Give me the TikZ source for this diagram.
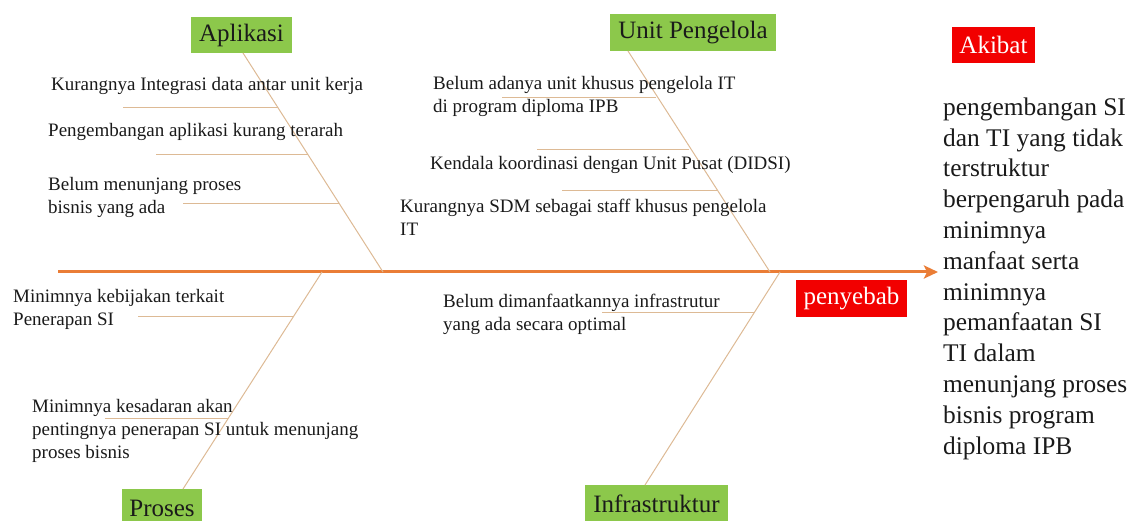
\documentclass[tikz,border=0pt]{standalone}
\usepackage{fontspec}
\setmainfont{Liberation Serif}
\usetikzlibrary{arrows.meta}
\definecolor{spineor}{HTML}{EA7D36}
\definecolor{bonecol}{HTML}{DDBA95}
\definecolor{catgreen}{HTML}{8CC84B}
\definecolor{effred}{HTML}{F20000}
\definecolor{txt}{HTML}{1A1A1A}
\tikzset{
  cat/.style={fill=catgreen, text=txt, inner sep=0pt, font=\fontsize{25}{30}\selectfont},
  redlab/.style={fill=effred, text=white, inner sep=0pt, font=\fontsize{25}{30}\selectfont},
  cause/.style={anchor=base west, align=left, inner sep=0pt, text=txt, font=\fontsize{19}{23}\selectfont},
  bone/.style={draw=bonecol, line width=1pt},
  spine/.style={draw=spineor, line width=3pt, -{Stealth[length=14pt,width=13pt,inset=3pt]}}
}
\begin{document}
\begin{tikzpicture}[x=1pt,y=-1pt]
\useasboundingbox (0,0) rectangle (1136,521);
\clip (0,0) rectangle (1136,521);
% category boxes
\node[cat, minimum width=101pt, minimum height=36pt] (apl) at (241.5,35) {Aplikasi};
\node[cat, minimum width=166pt, minimum height=37pt] (unit) at (693,32.5) {Unit Pengelola};
\node[cat, minimum width=80pt, minimum height=38pt] (pros) at (162,508) {Proses};
\node[cat, minimum width=143pt, minimum height=38pt] (infra) at (656.5,504) {Infrastruktur};
\node[redlab, minimum width=83pt, minimum height=36pt] (akibat) at (993.5,45) {Akibat};
\node[redlab, minimum width=111pt, minimum height=37pt] (peny) at (851.5,298.5) {penyebab};
% spine
\coordinate (tail) at (58,272);
\coordinate (head) at (938,272);
\draw[spine] (tail) -- (head);
% diagonal bones
\coordinate (aTop) at (243,53);
\coordinate (aBot) at (383,272);
\coordinate (uTop) at (628,51);
\coordinate (uBot) at (770,272);
\coordinate (pTop) at (322,272);
\coordinate (pBot) at (183,489);
\coordinate (iTop) at (780,272);
\coordinate (iBot) at (645,485);
\draw[bone] (aTop) -- (aBot);
\draw[bone] (uTop) -- (uBot);
\draw[bone] (pTop) -- (pBot);
\draw[bone] (iTop) -- (iBot);
% sub bones
\coordinate (a1) at (278,108); \coordinate (a1e) at (123,108);
\coordinate (a2) at (308,155); \coordinate (a2e) at (156,155);
\coordinate (a3) at (339,204); \coordinate (a3e) at (183,204);
\coordinate (u1) at (656,98);  \coordinate (u1e) at (502,98);
\coordinate (u2) at (689,150); \coordinate (u2e) at (537,150);
\coordinate (u3) at (717,191); \coordinate (u3e) at (562,191);
\coordinate (p1) at (293,317); \coordinate (p1e) at (138,317);
\coordinate (p2) at (228,419); \coordinate (p2e) at (105,419);
\coordinate (i1) at (754,313); \coordinate (i1e) at (602,313);
\foreach \s in {a1,a2,a3,u1,u2,u3,p1,p2,i1} { \draw[bone] (\s) -- (\s e); }
% cause texts (anchor = baseline of last line)
\node[cause] (ta1) at (51,91) {Kurangnya Integrasi data antar unit kerja};
\node[cause] (ta2) at (48,137) {Pengembangan aplikasi kurang terarah};
\node[cause] (ta3) at (48,214) {Belum menunjang proses\\bisnis yang ada};
\node[cause] (tu1) at (433,113) {Belum adanya unit khusus pengelola IT\\di program diploma IPB};
\node[cause] (tu2) at (430,170) {Kendala koordinasi dengan Unit Pusat (DIDSI)};
\node[cause] (tu3) at (400,236) {Kurangnya SDM sebagai staff khusus pengelola\\IT};
\node[cause] (tp1) at (13,326) {Minimnya kebijakan terkait\\Penerapan SI};
\node[cause] (tp2) at (32,458) {Minimnya kesadaran akan\\pentingnya penerapan SI untuk menunjang\\proses bisnis};
\node[cause] (ti1) at (443,331) {Belum dimanfaatkannya infrastrutur\\yang ada secara optimal};
% effect
\node[anchor=base west, align=left, inner sep=0pt, text=txt, font=\fontsize{25.4}{30.8}\selectfont] (eff) at (943,454)
 {pengembangan SI\\dan TI yang tidak\\terstruktur\\berpengaruh pada\\minimnya\\manfaat serta\\minimnya\\pemanfaatan SI\\TI dalam\\menunjang proses\\bisnis program\\diploma IPB};
\end{tikzpicture}
\end{document}
